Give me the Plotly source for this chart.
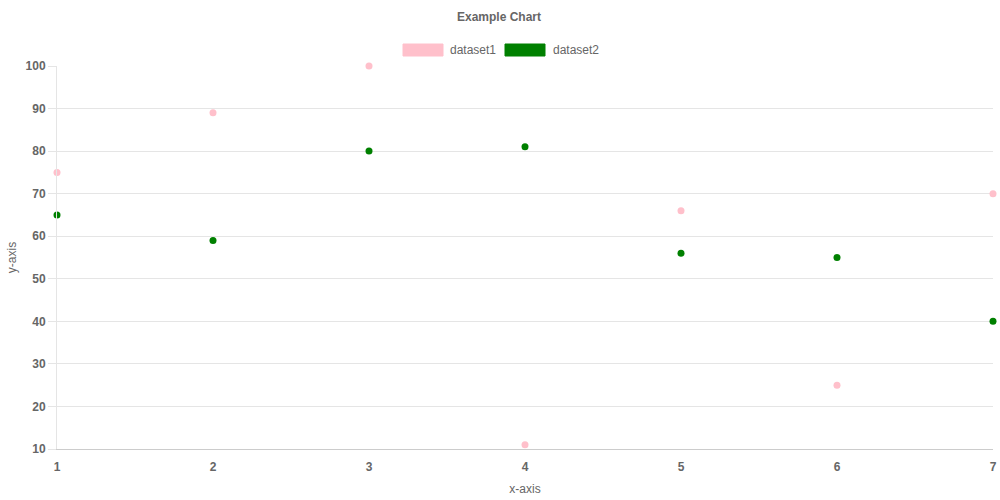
import plotly.graph_objects as go

x_vals = [1, 2, 3, 4, 5, 6, 7]
dataset1 = [75, 89, 100, 11, 66, 25, 70]
dataset2 = [65, 59, 80, 81, 56, 55, 40]
series_names = ["dataset1", "dataset2"]
series_colors = ["pink", "green"]
y_ticks = list(range(10, 101, 10))

W, H = 1000, 500
L, R, T, B = 57, 7, 66, 51
PW, PH = W - L - R, H - T - B

def px_x(p):  # page pixel -> paper x
    return (p - L) / PW

def px_y(p):  # page pixel -> paper y
    return (H - B - p) / PH

FONT = "Liberation Sans, Arial, sans-serif"
GREY = "#666666"
GRID = "#e5e5e5"

fig = go.Figure()
for name, vals, col in zip(series_names, [dataset1, dataset2], series_colors):
    fig.add_trace(go.Scatter(
        x=x_vals, y=vals, mode="markers", name=name,
        marker=dict(color=col, size=7, line=dict(width=0)),
        cliponaxis=False, showlegend=False,
    ))

# custom Chart.js-like legend (page pixel positions)
legend_items = [(403, 443, 448), (505, 545, 551)]
for (x0, x1, tx), name, col in zip(legend_items, series_names, series_colors):
    fig.add_shape(type="rect", xref="paper", yref="paper",
                  x0=px_x(x0), x1=px_x(x1), y0=px_y(56), y1=px_y(44),
                  fillcolor=col, line=dict(width=1, color=col))
    fig.add_annotation(xref="paper", yref="paper", x=px_x(tx), y=px_y(50),
                       text=name, showarrow=False, xanchor="left", yanchor="middle",
                       font=dict(family=FONT, size=12, color=GREY))

fig.add_annotation(xref="paper", yref="paper", x=px_x(499), y=px_y(17),
                   text="<b>Example Chart</b>", showarrow=False,
                   xanchor="center", yanchor="middle",
                   font=dict(family=FONT, size=12, color=GREY))

fig.update_layout(
    width=W, height=H,
    margin=dict(l=L, r=R, t=T, b=B, autoexpand=False),
    paper_bgcolor="white", plot_bgcolor="white",
    font=dict(family=FONT, size=12, color=GREY),
    xaxis=dict(range=[1, 7], tickvals=x_vals, ticktext=[f"<b>{v}</b>" for v in x_vals],
               showgrid=False, zeroline=False, showline=True, linecolor="#cccccc",
               ticks="outside", ticklen=7, tickcolor="rgba(0,0,0,0)", automargin=False,
               title=dict(text="x-axis", standoff=11,
                          font=dict(family=FONT, size=12, color=GREY)),
               tickfont=dict(family=FONT, size=12, color=GREY)),
    yaxis=dict(range=[10, 100], tickvals=y_ticks,
               ticktext=[f"<b>{v}</b>" for v in y_ticks],
               showgrid=True, gridcolor=GRID, zeroline=False, showline=True,
               linecolor=GRID, ticks="outside", ticklen=8, tickcolor=GRID, automargin=False,
               title=dict(text="y-axis", standoff=6,
                          font=dict(family=FONT, size=12, color=GREY)),
               tickfont=dict(family=FONT, size=12, color=GREY)),
)

fig.write_html("out.html",
               config={"displayModeBar": False},
               post_script="document.body.style.margin='0';document.body.style.overflow='hidden';")
